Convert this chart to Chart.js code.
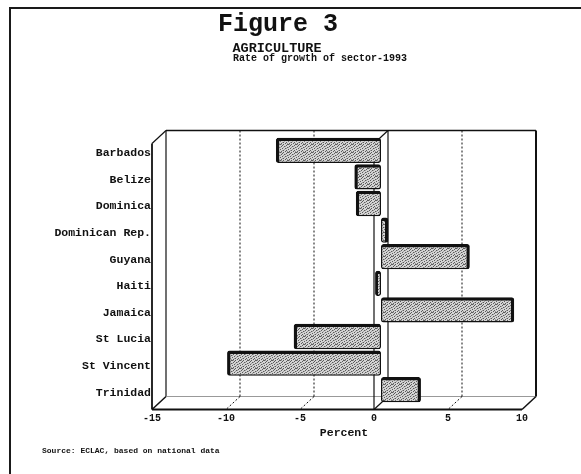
<!DOCTYPE html>
<html>
<head>
<meta charset="utf-8">
<script src="https://cdn.jsdelivr.net/npm/chart.js@4/dist/chart.umd.min.js"></script>
<style>
  html, body { margin: 0; padding: 0; background: #fff; }
  #page { position: relative; width: 581px; height: 474px; overflow: hidden;
          font-family: "Liberation Mono", "DejaVu Sans Mono", monospace; font-weight: bold; color: #111; }
  #box { position: absolute; left: 9px; top: 7px; width: 620px; height: 520px;
         border-left: 2px solid #1a1a1a; border-top: 2px solid #1a1a1a; }
  canvas { position: absolute; left: 0; top: 0; }
  .txt { position: absolute; white-space: nowrap; transform: translateX(-50%); }
</style>
</head>
<body>
<div id="page">
  <div id="box"></div>
  <canvas id="chart" width="581" height="474"></canvas>
  <div class="txt" style="left:278px; top:10px; font-size:25px;">Figure 3</div>
  <div class="txt" style="left:277px; top:41px; font-size:13.5px;">AGRICULTURE</div>
  <div class="txt" style="left:320px; top:53px; font-size:10px;">Rate of growth of sector-1993</div>
  <div class="txt" style="left:42px; top:446px; font-size:8px; transform:none;">Source: ECLAC, based on national data</div>
</div>
<script>
// ---------------------------
// Data
// ---------------------------
const countries = ['Barbados', 'Belize', 'Dominica', 'Dominican Rep.', 'Guyana',
                   'Haiti', 'Jamaica', 'St Lucia', 'St Vincent', 'Trinidad'];
const growth = [-7.1, -1.8, -1.7, 0.5, 6.0, -0.4, 9.0, -5.9, -10.4, 2.7];
const xMin = -15;
const xMax = 10;
const xStep = 5;

const FONT = '"Liberation Mono", "DejaVu Sans Mono", monospace';
const INK = '#111';

// speckled grey fill like the old printout
function stipple(ctx) {
  const c = document.createElement('canvas');
  c.width = 8; c.height = 8;
  const g = c.getContext('2d');
  g.fillStyle = '#d4d4d4';
  g.fillRect(0, 0, 8, 8);
  g.fillStyle = '#5a5a5a';
  const dots = [[0,0],[3,0],[6,1],[1,2],[4,2],[7,3],[2,4],[5,4],[0,5],[3,6],[6,6],[1,7],[5,7],[7,0],[2,1]];
  dots.forEach(([x, y]) => g.fillRect(x, y, 1, 1));
  g.fillStyle = '#9a9a9a';
  [[1,0],[5,2],[3,3],[6,4],[4,5],[2,6],[7,7],[0,3]].forEach(([x, y]) => g.fillRect(x, y, 1, 1));
  return ctx.createPattern(c, 'repeat');
}

// ---------------------------
// 3D box: back wall, left wall, floor, grid
// ---------------------------
const frame3d = {
  id: 'frame3d',
  beforeDatasetsDraw(chart) {
    const { ctx, chartArea: a, scales: { x } } = chart;
    const dx = 7, dy = 6.5;
    const bL = a.left + dx, bR = a.right + dx, bT = a.top - dy, bB = a.bottom - dy;
    const fL = a.left - dx, fR = a.right - dx, fT = a.top + dy, fB = a.bottom + dy;

    const line = (x1, y1, x2, y2, w, dash, col) => {
      ctx.beginPath();
      ctx.lineWidth = w;
      ctx.strokeStyle = col || INK;
      ctx.setLineDash(dash || []);
      ctx.moveTo(x1, y1);
      ctx.lineTo(x2, y2);
      ctx.stroke();
    };

    ctx.save();
    // back wall
    line(bL, bT, bR, bT, 1.5);
    line(bR, bT, bR, bB, 2);
    line(bL, bT, bL, bB, 1.2);
    line(bL, bB, bR, bB, 1, null, '#999');
    // left wall
    line(bL, bT, fL, fT, 1.2);
    line(fL, fT, fL, fB, 1.8);
    line(bL, bB, fL, fB, 1.5);
    // floor
    line(fL, fB, fR, fB, 2);
    line(bR, bB, fR, fB, 1.5);

    x.ticks.forEach(t => {
      const px = x.getPixelForValue(t.value);
      if (t.value === 0) {
        line(px + dx, bT, px + dx, bB, 1.2);
        line(px + dx, bT, px - dx, fT, 1.2);
        line(px - dx, fT, px - dx, fB, 1.2);
        line(px + dx, bB, px - dx, fB, 1.2);
      } else if (t.value !== xMin && t.value !== xMax) {
        line(px + dx, bT, px + dx, bB, 1, [2, 2]);
        line(px + dx, bB, px - dx, fB, 1, [2, 2]);
      }
    });
    ctx.restore();
  }
};

const ctx = document.getElementById('chart').getContext('2d');
const fill = stipple(ctx);

new Chart(ctx, {
  type: 'bar',
  data: {
    labels: countries,
    datasets: [{
      data: growth,
      backgroundColor: fill,
      borderColor: INK,
      borderSkipped: false,
      borderRadius: 2.5,
      borderWidth: c => c.raw < 0
        ? { top: 3.5, left: 3.5, bottom: 1.5, right: 1.5 }
        : { top: 3.5, right: 3.5, bottom: 1.5, left: 1.5 },
      barPercentage: 0.95,
      categoryPercentage: 1
    }]
  },
  options: {
    responsive: false,
    animation: false,
    indexAxis: 'y',
    layout: { padding: { top: 137, right: 52, left: 0, bottom: 0 } },
    plugins: { legend: { display: false }, tooltip: { enabled: false } },
    scales: {
      x: {
        min: xMin,
        max: xMax,
        ticks: { stepSize: xStep, labelOffset: -7, padding: 9, color: INK,
                 font: { family: FONT, size: 10, weight: 'bold' } },
        grid: { display: false, drawTicks: false },
        border: { display: false },
        title: { display: true, text: 'Percent', color: INK, padding: { top: 0, bottom: 34 },
                 font: { family: FONT, size: 11.5, weight: 'bold' } },
        afterFit: s => { s.height = 71; }
      },
      y: {
        ticks: { padding: 8, labelOffset: 3, color: INK,
                 font: { family: FONT, size: 11.5, weight: 'bold' } },
        grid: { display: false, drawTicks: false },
        border: { display: false },
        afterFit: s => { s.width = 159; }
      }
    }
  },
  plugins: [frame3d]
});
</script>
</body>
</html>
